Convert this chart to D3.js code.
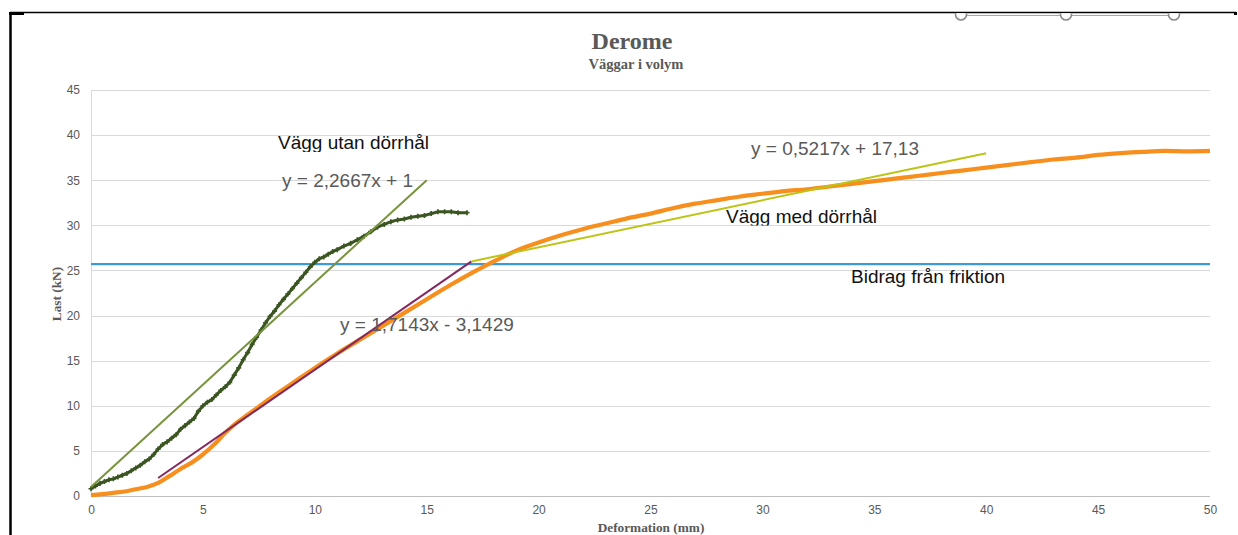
<!DOCTYPE html>
<html><head><meta charset="utf-8">
<script src="https://cdn.jsdelivr.net/npm/d3@7"></script>
<style>body{margin:0;background:#fff;} svg{display:block;}</style>
</head><body>
<svg id="c" width="1238" height="535"></svg>
<script>
// ---- data ----
const xTicks = [0,5,10,15,20,25,30,35,40,45,50];
const yTicks = [0,5,10,15,20,25,30,35,40,45];
const utanX = [0,0.2,0.4,0.6,0.8,1.0,1.2,1.4,1.6,1.8,2.0,2.2,2.4,2.6,2.8,3.0,3.2,3.4,3.6,3.8,4.0,4.2,4.4,4.6,4.8,5.0,5.2,5.4,5.6,5.8,6.0,6.2,6.4,6.6,6.8,7.0,7.2,7.4,7.6,7.8,8.0,8.2,8.4,8.6,8.8,9.0,9.2,9.4,9.6,9.8,10.0,10.2,10.4,10.6,10.8,11.0,11.3,11.6,11.9,12.2,12.5,12.8,13.1,13.4,13.7,14.0,14.3,14.6,14.9,15.2,15.5,15.8,16.1,16.4,16.8];
const utanY = [0.8,1.1,1.4,1.6,1.8,1.9,2.1,2.3,2.5,2.8,3.1,3.4,3.8,4.1,4.6,5.2,5.7,6.0,6.4,6.8,7.4,7.8,8.2,8.6,9.4,10.0,10.4,10.7,11.2,11.7,12.1,12.6,13.4,14.2,15.1,15.9,16.8,17.6,18.4,19.2,19.9,20.5,21.2,21.8,22.4,23.0,23.6,24.2,24.8,25.4,25.9,26.3,26.5,26.8,27.1,27.3,27.7,28.0,28.4,28.8,29.3,29.8,30.1,30.4,30.6,30.7,30.9,31.0,31.1,31.3,31.5,31.5,31.5,31.4,31.4];
const medX = [0,0.5,1,1.5,2,2.5,3,3.5,4,4.5,5,5.5,6,6.5,7,7.5,8,9,10,11,12,13,14,15,16,17,18,19,20,21,22,23,24,25,26,27,28,29,30,31,32,33,34,35,36,37,38,39,40,41,42,43,44,45,46,47,48,49,50];
const medY = [0.1,0.2,0.35,0.5,0.75,1.0,1.45,2.2,3.0,3.7,4.6,5.7,7.0,8.1,9.0,9.9,10.8,12.5,14.2,15.8,17.3,18.8,20.3,21.8,23.3,24.7,26.0,27.2,28.1,28.9,29.6,30.2,30.8,31.3,31.9,32.4,32.8,33.2,33.5,33.8,34.0,34.3,34.6,34.9,35.2,35.5,35.8,36.1,36.4,36.7,37.0,37.3,37.5,37.8,38.0,38.15,38.25,38.2,38.25];
const friction = 25.7;
const trendSlopes = [2.2667, 1.7143, 0.5217];
const trendIntercepts = [1, -3.1429, 17.13];
const trendStart = [0, 3, 17];
const trendEnd = [15, 17, 40];
const trendColors = ["#77933c", "#83295f", "#bcc415"];

// ---- layout ----
const svg = d3.select("#c");
const L = 91, R = 1210, T = 90, B = 496;
const x = d3.scaleLinear().domain([0,50]).range([L,R]);
const y = d3.scaleLinear().domain([0,45]).range([B,T]);
const sans = "'Liberation Sans', Arial, sans-serif";
const serif = "'Liberation Serif', 'Times New Roman', serif";

// frame
svg.append("line").attr("x1",10).attr("x2",1236).attr("y1",12.5).attr("y2",12.5).attr("stroke","#000").attr("stroke-width",1.5);
svg.append("line").attr("x1",10.5).attr("x2",10.5).attr("y1",12).attr("y2",535).attr("stroke","#000").attr("stroke-width",2.5);
svg.append("rect").attr("x",9).attr("y",12).attr("width",15).attr("height",3).attr("fill","#000");
svg.append("rect").attr("x",1234).attr("y",12).attr("width",3).attr("height",3).attr("fill","#000");

// selection handles
const defs = svg.append("defs");
defs.append("clipPath").attr("id","hc").append("rect").attr("x",900).attr("y",13.3).attr("width",338).attr("height",20);
const hg = svg.append("g").attr("clip-path","url(#hc)");
const hx = [961, 1066, 1174];
hg.append("line").attr("x1",hx[0]).attr("x2",hx[2]).attr("y1",15.5).attr("y2",15.5).attr("stroke","#a6a6a6").attr("stroke-width",1.2);
hg.selectAll("circle").data(hx).join("circle").attr("cx",d=>d).attr("cy",14.5).attr("r",5.5)
  .attr("fill","#fff").attr("stroke","#8c8c8c").attr("stroke-width",1.6);

// titles
svg.append("text").attr("x",632).attr("y",49).attr("text-anchor","middle").attr("font-family",serif)
  .attr("font-weight","bold").attr("font-size",24).attr("fill","#595959").text("Derome");
svg.append("text").attr("x",636).attr("y",69).attr("text-anchor","middle").attr("font-family",serif)
  .attr("font-weight","bold").attr("font-size",14.5).attr("fill","#595959").text("Väggar i volym");

// grid
svg.append("g").selectAll("line").data(yTicks.filter(d=>d>0)).join("line")
  .attr("x1",L).attr("x2",R).attr("y1",d=>Math.round(y(d))+0.5).attr("y2",d=>Math.round(y(d))+0.5)
  .attr("stroke","#d9d9d9").attr("stroke-width",1);
svg.append("line").attr("x1",L+0.5).attr("x2",L+0.5).attr("y1",T).attr("y2",B).attr("stroke","#d9d9d9");
svg.append("line").attr("x1",L).attr("x2",R).attr("y1",B+0.5).attr("y2",B+0.5).attr("stroke","#bfbfbf");

// axes
const yAxis = svg.append("g").attr("transform",`translate(${L},0)`)
  .call(d3.axisLeft(y).tickValues(yTicks).tickSize(0).tickPadding(11));
const xAxis = svg.append("g").attr("transform",`translate(0,${B})`)
  .call(d3.axisBottom(x).tickValues(xTicks).tickSize(0).tickPadding(9));
[yAxis,xAxis].forEach(a=>{a.select(".domain").remove();
  a.selectAll("text").attr("font-family",sans).attr("font-size",12).attr("fill","#595959");});

svg.append("text").attr("x",651).attr("y",532).attr("text-anchor","middle").attr("font-family",serif)
  .attr("font-weight","bold").attr("font-size",13.3).attr("fill","#595959").text("Deformation (mm)");
svg.append("text").attr("transform","translate(61,294) rotate(-90)").attr("text-anchor","middle").attr("font-family",serif)
  .attr("font-weight","bold").attr("font-size",13.3).attr("fill","#595959").text("Last (kN)");

// friction line
svg.append("line").attr("x1",x(0)).attr("x2",x(50)).attr("y1",y(friction)).attr("y2",y(friction))
  .attr("stroke","#3d9ad8").attr("stroke-width",2.2);

const line = d3.line().x(d=>x(d[0])).y(d=>y(d[1]));
// orange series
const med = medX.map((v,i)=>[v,medY[i]]);
svg.append("path").datum(med).attr("d",line.curve(d3.curveMonotoneX)).attr("fill","none")
  .attr("stroke","#f78f1e").attr("stroke-width",4.2).attr("stroke-linejoin","round");

// green series
const utan = utanX.map((v,i)=>[v,utanY[i]]);
svg.append("path").datum(utan).attr("d",d3.line().x(d=>x(d[0])).y(d=>y(d[1]))).attr("fill","none")
  .attr("stroke","#3a5520").attr("stroke-width",3);
svg.append("g").selectAll("path").data(utan).join("path")
  .attr("transform",d=>`translate(${x(d[0])},${y(d[1])})`)
  .attr("d",d3.symbol(d3.symbolCross,14)).attr("fill","#3a5520");

// trend lines
trendSlopes.forEach((m,i)=>{
  const x0 = trendStart[i], x1 = trendEnd[i], b = trendIntercepts[i];
  svg.append("line").attr("x1",x(x0)).attr("x2",x(x1)).attr("y1",y(m*x0+b)).attr("y2",y(m*x1+b))
    .attr("stroke",trendColors[i]).attr("stroke-width",2);
});

// labels
const labels = [
  {t:"Vägg utan dörrhål", x:278, y:149, c:"#111", clip:152},
  {t:"y = 2,2667x + 1", x:282, y:187, c:"#595959"},
  {t:"y = 0,5217x + 17,13", x:751, y:155, c:"#595959"},
  {t:"Vägg med dörrhål", x:726, y:223, c:"#111", clip:225.5},
  {t:"Bidrag från friktion", x:851, y:283, c:"#111"},
  {t:"y = 1,7143x - 3,1429", x:340, y:331, c:"#595959"}
];
labels.forEach((d,i)=>{
  const t = svg.append("text").attr("x",d.x).attr("y",d.y).attr("font-family",sans).attr("font-size",19)
    .attr("fill",d.c).text(d.t);
  if(d.clip){
    defs.append("clipPath").attr("id","lc"+i).append("rect").attr("x",d.x-5).attr("y",d.y-30).attr("width",300).attr("height",30+(d.clip-d.y));
    t.attr("clip-path",`url(#lc${i})`);
  }
});
</script>
</body></html>
